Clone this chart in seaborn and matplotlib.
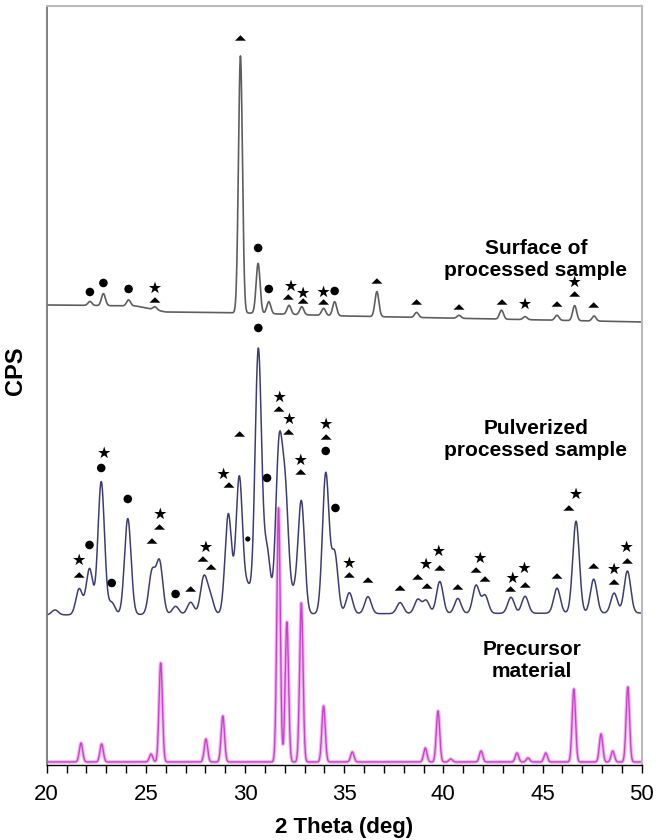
import numpy as np
import pandas as pd
import matplotlib
matplotlib.use("Agg")
import matplotlib.pyplot as plt
import seaborn as sns

# ---------------- data ----------------
# Peak positions (2θ, deg) and heights above background (CPS, arbitrary offset units)
surface_pos = [22.18, 22.86, 24.13, 25.46, 29.77, 30.66, 31.20, 32.22, 32.86, 33.96,
               34.52, 36.65, 38.65, 40.79, 42.93, 44.12, 45.73, 46.62, 47.60]
surface_h = [4, 12, 6, 3, 257, 50, 12, 9, 8, 7,
             14, 25, 5, 3, 9, 3, 5, 15, 5]
surface_bg_x = [20.0, 24.5, 26.0, 30.0, 35.0, 40.0, 50.0]
surface_bg_y = [460, 459, 453, 452, 449, 447, 443]

pulver_pos = [20.42, 21.64, 22.16, 22.75, 23.28, 24.09, 25.31, 25.69, 26.50, 27.26,
              27.92, 28.24, 29.16, 29.71, 30.14, 30.67, 31.11, 31.71, 32.03, 32.47,
              32.84, 34.07, 34.52, 35.26, 36.20, 37.82, 38.71, 39.13, 39.82, 40.73,
              41.65, 42.10, 43.41, 44.12, 45.73, 46.69, 47.58, 48.61, 49.28]
pulver_h = [5, 26, 46, 133, 12, 96, 42, 52, 8, 12,
            36, 18, 100, 137, 26, 264, 62, 160, 115, 18,
            112, 140, 60, 21, 17, 11, 14, 13, 32, 15,
            28, 18, 16, 17, 25, 92, 34, 20, 42]
pulver_bg_x = [20.0, 30.0, 50.0]
pulver_bg_y = [150, 151, 152]

precursor_pos = [21.73, 22.77, 25.26, 25.75, 28.03, 28.88, 31.69, 32.11, 32.84, 33.96,
                 35.41, 39.09, 39.73, 40.37, 41.90, 43.71, 44.27, 45.16, 46.58, 47.95,
                 48.54, 49.30]
precursor_h = [19, 18, 8, 99, 23, 46, 254, 140, 159, 56,
               10, 14, 51, 3, 11, 9, 4, 9, 73, 28,
               11, 75]
precursor_bg_x = [20.0, 50.0]
precursor_bg_y = [3, 3]

# Phase markers: position (2θ), height, phase symbol
marker_theta = [22.18, 22.86, 24.13, 25.46, 25.46, 29.77, 30.66, 31.20, 32.18, 32.32,
                32.93, 32.93, 33.96, 33.96, 34.52, 36.65, 38.65, 40.79, 42.96, 44.12,
                45.73, 46.62, 46.62, 47.58,
                21.64, 21.64, 22.16, 22.75, 22.90, 23.28, 24.09, 25.31, 25.69, 25.73,
                26.50, 27.26, 27.88, 28.29, 28.03, 29.19, 28.92, 29.73, 30.14, 30.67,
                31.11, 31.71, 31.75, 32.20, 32.24, 32.81, 32.81, 34.07, 34.09, 34.09,
                34.56, 35.26, 35.26, 36.20, 37.82, 38.71, 39.18, 39.13, 39.82, 39.77,
                40.73, 41.65, 41.86, 42.10, 43.39, 43.50, 44.13, 44.09, 45.73, 46.33,
                46.69, 47.58, 48.61, 48.61, 49.28, 49.24]
marker_y = [473, 482, 476, 465, 477, 727, 517, 476, 468, 479,
            464, 472, 463, 473, 474, 484, 463, 458, 463, 461,
            461, 471, 483, 460,
            190, 205, 220, 297, 312, 182, 266, 224, 238, 251,
            171, 176, 206, 198, 218, 280, 291, 331, 226, 437,
            287, 356, 368, 333, 346, 293, 305, 314, 328, 341,
            257, 190, 202, 185, 177, 188, 179, 201, 197, 214,
            178, 195, 207, 186, 176, 187, 180, 197, 189, 257,
            271, 199, 183, 196, 204, 218]
marker_kind = ["circle", "circle", "circle", "triangle", "star", "triangle", "circle", "circle", "triangle", "star",
               "triangle", "star", "triangle", "star", "circle", "triangle", "triangle", "triangle", "triangle", "star",
               "triangle", "triangle", "star", "triangle",
               "triangle", "star", "circle", "circle", "star", "circle", "circle", "triangle", "triangle", "star",
               "circle", "triangle", "triangle", "triangle", "star", "triangle", "star", "triangle", "dot", "circle",
               "circle", "triangle", "star", "triangle", "star", "triangle", "star", "circle", "triangle", "star",
               "circle", "triangle", "star", "triangle", "triangle", "triangle", "triangle", "star", "triangle", "star",
               "triangle", "triangle", "star", "triangle", "triangle", "star", "triangle", "star", "triangle", "triangle",
               "star", "triangle", "triangle", "star", "triangle", "star"]

labels = ["Surface of\nprocessed sample", "Pulverized\nprocessed sample", "Precursor\nmaterial"]
label_x = [44.67, 44.67, 44.47]
label_y = [505, 325, 104]


def pattern(theta, pos, h, sigma, bg_x, bg_y):
    """Sum of Gaussian reflections on top of a piecewise background."""
    y = np.interp(theta, bg_x, bg_y).astype(float)
    for p, a in zip(pos, h):
        y += a * np.exp(-0.5 * ((theta - p) / sigma) ** 2)
    return y


theta = np.linspace(20, 50, 3001)
df = pd.DataFrame({
    "theta": theta,
    "surface": pattern(theta, surface_pos, surface_h, 0.10, surface_bg_x, surface_bg_y),
    "pulver": pattern(theta, pulver_pos, pulver_h, 0.165, pulver_bg_x, pulver_bg_y),
    "precursor": pattern(theta, precursor_pos, precursor_h, 0.085, precursor_bg_x, precursor_bg_y),
})
marks = pd.DataFrame({"theta": marker_theta, "y": marker_y, "kind": marker_kind})

# ---------------- figure ----------------
sns.set_style("white")
plt.rcParams["font.family"] = ["Liberation Sans", "DejaVu Sans"]
plt.rcParams["text.color"] = "black"
plt.rcParams["axes.labelcolor"] = "black"
plt.rcParams["xtick.color"] = "black"

fig = plt.figure(figsize=(6.64, 8.40), dpi=100)
ax = fig.add_axes([0.0703, 0.0893, 0.8961, 0.9036])

sns.lineplot(data=df, x="theta", y="precursor", ax=ax, color="#f0b8f0", lw=2.6)
sns.lineplot(data=df, x="theta", y="precursor", ax=ax, color="#cf3fcf", lw=1.0)
sns.lineplot(data=df, x="theta", y="pulver", ax=ax, color="#3d3d75", lw=1.1)
sns.lineplot(data=df, x="theta", y="surface", ax=ax, color="#5e5e5e", lw=1.2)

tri = [(-1.0, -0.5), (1.0, -0.5), (0.0, 0.5)]
styles = {
    "triangle": dict(marker=tri, s=62),
    "star": dict(marker="*", s=85),
    "circle": dict(marker="o", s=38),
    "dot": dict(marker="o", s=14),
}
for kind, kw in styles.items():
    sub = marks[marks["kind"] == kind]
    sns.scatterplot(data=sub, x="theta", y="y", ax=ax, color="black",
                    edgecolor="none", linewidth=0, zorder=5, **kw)

for txt, lx, ly in zip(labels, label_x, label_y):
    ax.text(lx, ly, txt, ha="center", va="center", fontsize=15,
            fontweight="bold", linespacing=1.2, color="black")

ax.set_xlim(20, 50)
ax.set_ylim(0, 759)
ax.set_xticks(np.arange(20, 51, 5))
ax.set_xticks(np.arange(20, 51, 1), minor=True)
ax.tick_params(axis="x", which="both", direction="out", length=6, width=1,
               color="black", bottom=True, labelsize=16, pad=8, labelcolor="black")
ax.set_yticks([])
ax.set_xlabel("2 Theta (deg)", fontsize=16, fontweight="bold", labelpad=8)
ax.set_ylabel("CPS", fontsize=17, fontweight="bold")
ax.yaxis.set_label_coords(-0.033, 0.52)

ax.spines["bottom"].set_color("black")
ax.spines["bottom"].set_linewidth(1.0)
ax.spines["left"].set_color("#777777")
ax.spines["left"].set_linewidth(1.3)
for s in ("top", "right"):
    ax.spines[s].set_color("#bbbbbb")
    ax.spines[s].set_linewidth(1.5)

fig.savefig("out.png", dpi=100)
